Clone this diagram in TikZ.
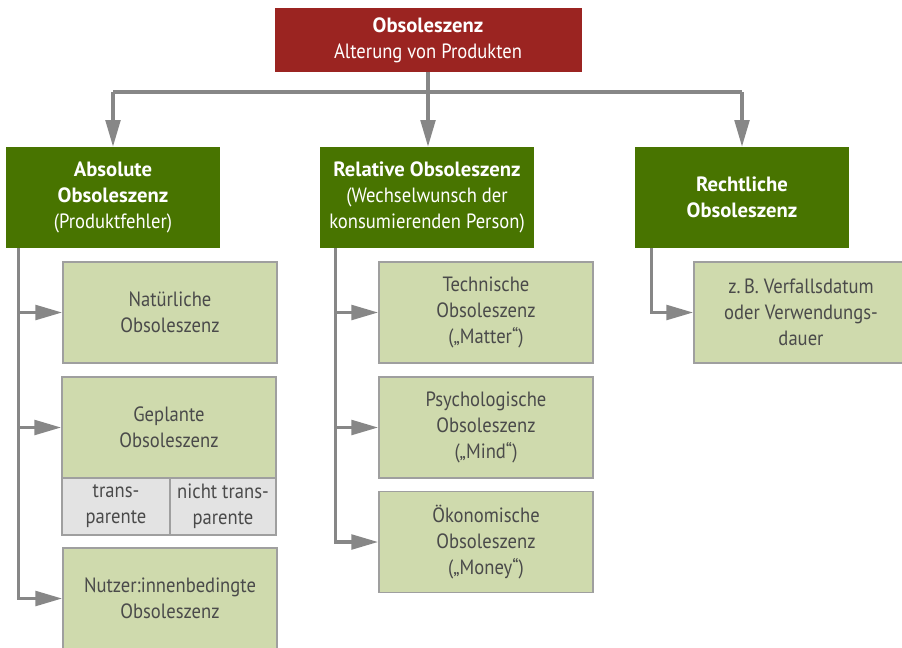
\documentclass[tikz,border=0pt]{standalone}
\usepackage{fontspec}
\setmainfont[FakeStretch=0.9, BoldFeatures={FakeStretch=1.0}]{PT Sans}
\usetikzlibrary{arrows.meta, positioning, calc}
\definecolor{obsred}{HTML}{9B2421}
\definecolor{obsgreen}{HTML}{487400}
\definecolor{obslight}{HTML}{CFDAAD}
\definecolor{obscell}{HTML}{E3E3E3}
\definecolor{obsline}{HTML}{878787}
\definecolor{obstext}{HTML}{4A4A4A}

\begin{document}
\begin{tikzpicture}[
    x=0.75pt, y=-0.75pt,
    box/.style={rectangle, inner sep=2pt, align=center, font=\fontsize{15.5}{19.5}\selectfont, minimum width=160.5pt, minimum height=75.75pt},
    topbox/.style={box, fill=obsred, text=white, minimum width=230.25pt, minimum height=48pt},
    mainbox/.style={box, fill=obsgreen, text=white},
    subbox/.style={box, fill=obslight, draw=obsline!80, line width=1.3pt, text=obstext},
    cellbox/.style={subbox, fill=obscell, minimum height=42.75pt},
    line/.style={draw=obsline, line width=2.4pt},
    arrow/.style={line, -{Triangle[length=20pt, width=11pt]}}
]
\useasboundingbox (0,0) rectangle (902,647);

% ========== Oberbegriff ==========
\node[topbox] (top) at (428,40) {\textbf{Obsoleszenz}\\Alterung von Produkten};

% ========== Hauptarten ==========
\node[mainbox] (absolut) at (113,197.5) {\textbf{Absolute}\\\textbf{Obsoleszenz}\\(Produktfehler)};
\node[mainbox] (relativ) at (427,197.5) {\textbf{Relative Obsoleszenz}\\(Wechselwunsch der\\konsumierenden Person)};
\node[mainbox] (rechtlich) at (742,197.5) {\textbf{Rechtliche}\\\textbf{Obsoleszenz}};

% Verteilerlinie
\coordinate (verteiler) at (0,92);
\draw[line] (absolut.north |- verteiler) -- (rechtlich.north |- verteiler);
\draw[arrow] (top.south) -- (top.south |- relativ.north);
\draw[arrow] (absolut.north |- verteiler) -- (absolut.north);
\draw[arrow] (rechtlich.north |- verteiler) -- (rechtlich.north);

% ========== Absolute (links) ==========
\node[subbox] (natuerlich) at (170,312.5) {Natürliche\\Obsoleszenz};
\node[subbox] (geplant) at (169,427.5) {Geplante\\Obsoleszenz};
\node[cellbox, minimum width=81pt] (transp) at (116,506.5) {trans-\\parente};
\node[cellbox, minimum width=79.5pt] (nichttransp) at (223,506.5) {nicht trans-\\parente};
\node[subbox] (nutzer) at (170,598.5) {Nutzer:innenbedingte\\Obsoleszenz};

\coordinate (stammA) at ($(absolut.south west)+(13,0)$);
\draw[line] (stammA) -- (stammA |- nutzer.west);
\draw[arrow] (stammA) |- (natuerlich.west);
\draw[arrow] (stammA) |- (geplant.west);
\draw[arrow] (stammA) |- (nutzer.west);

% ========== Relative (Mitte) ==========
\node[subbox] (technisch) at (486,312.5) {Technische\\Obsoleszenz\\(„Matter“)};
\node[subbox] (psycho) at (486,427.5) {Psychologische\\Obsoleszenz\\(„Mind“)};
\node[subbox] (oekonom) at (486,542) {Ökonomische\\Obsoleszenz\\(„Money“)};

\coordinate (stammR) at ($(relativ.south west)+(16,0)$);
\draw[line] (stammR) -- (stammR |- oekonom.west);
\draw[arrow] (stammR) |- (technisch.west);
\draw[arrow] (stammR) |- (psycho.west);
\draw[arrow] (stammR) |- (oekonom.west);

% ========== Rechtliche (rechts) ==========
\node[subbox] (beispiel) at (801,312.5) {z.\,B. Verfallsdatum\\oder Verwendungs-\\dauer};

\coordinate (stammL) at ($(rechtlich.south west)+(17,0)$);
\draw[arrow] (stammL) |- (beispiel.west);

\end{tikzpicture}
\end{document}
